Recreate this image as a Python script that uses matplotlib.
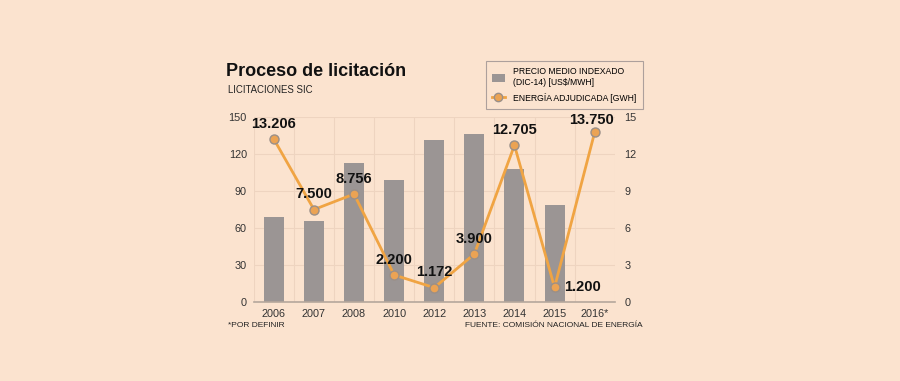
import matplotlib.pyplot as plt
import numpy as np
from matplotlib.lines import Line2D
from matplotlib.patches import Patch

years = ["2006", "2007", "2008", "2010", "2012", "2013", "2014", "2015", "2016*"]
precio = [69, 66, 113, 99, 131, 136, 108, 79, np.nan]
energia = [13.206, 7.500, 8.756, 2.200, 1.172, 3.900, 12.705, 1.200, 13.750]
etiquetas = ["13.206", "7.500", "8.756", "2.200", "1.172", "3.900", "12.705", "1.200", "13.750"]
# offsets (points) of each value label
offs = [(0, 6), (0, 6), (0, 6), (0, 6), (0, 6), (0, 6), (0, 6), (7, 0), (-2, 4)]

bg = "#fbe3cf"
grid_c = "#eed4c0"
bar_c = "#9b9594"
line_c = "#f0a443"

plt.rcParams['font.family'] = ["Liberation Sans", "DejaVu Sans"]
fig = plt.figure(figsize=(9, 3.81), dpi=100, facecolor=bg)
ax = fig.add_axes([0.282, 0.207, 0.401, 0.486], facecolor=bg)
x = np.arange(len(years))
ax.bar(x, precio, width=0.5, color=bar_c, zorder=2)
ax.set_xlim(-0.5, len(years) - 0.5)
ax.set_ylim(0, 150)
ax.set_yticks([0, 30, 60, 90, 120, 150])
ax.set_xticks(x)
ax.set_xticklabels(years)
ax.set_xticks(np.arange(-0.5, len(years), 1), minor=True)
ax.grid(False)
ax.xaxis.grid(True, which='minor', color=grid_c, lw=0.8, zorder=0)
ax.yaxis.grid(True, color=grid_c, lw=0.8, zorder=0)
ax.set_axisbelow(True)
ax.tick_params(which='both', length=0, labelsize=7.8, colors="#333333", pad=5)
for s in ["top", "right", "left"]:
    ax.spines[s].set_visible(False)
ax.spines["bottom"].set_color("#b5a79c")
ax.spines["bottom"].set_linewidth(1.2)

ax2 = ax.twinx()
ax2.set_ylim(0, 15)
ax2.set_yticks([0, 3, 6, 9, 12, 15])
ax2.tick_params(length=0, labelsize=7.8, colors="#333333", pad=7)
for s in ax2.spines.values():
    s.set_visible(False)
ax2.plot(x, energia, color=line_c, lw=2, marker="o", ms=6.5,
         mfc="#eba354", mec="#9a8f88", mew=1, zorder=3, clip_on=False)
for xi, yi, t, o in zip(x, energia, etiquetas, offs):
    ax2.annotate(t, (xi, yi), xytext=o, textcoords="offset points",
                 ha="left" if o[1] == 0 else "center",
                 va="bottom" if o[1] > 0 else "center",
                 fontsize=10.5, fontweight="bold", color="#111111", zorder=4)

fig.text(0.251, 0.812, "Proceso de licitación", fontsize=13, fontweight="bold",
         color="#111111", ha="left", va="center")
fig.text(0.253, 0.763, "LICITACIONES SIC", fontsize=6.9,
         color="#222222", ha="left", va="center")
fig.text(0.253, 0.145, "*POR DEFINIR", fontsize=6,
         color="#222222", ha="left", va="center")
fig.text(0.714, 0.145, "FUENTE: COMISIÓN NACIONAL DE ENERGÍA", fontsize=6,
         color="#222222", ha="right", va="center")

handles = [Patch(facecolor=bar_c, edgecolor="none"),
           Line2D([0], [0], color=line_c, lw=2, marker="o", ms=6, mfc="#eba354", mec="#9a8f88")]
leg = fig.legend(handles, ["PRECIO MEDIO INDEXADO\n(DIC-14) [US$/MWH]", "ENERGÍA ADJUDICADA [GWH]"],
                 loc="upper left", bbox_to_anchor=(0.54, 0.84), borderaxespad=0,
                 prop={"size": 6.2},
                 frameon=True, fancybox=False, edgecolor="#9a9090", facecolor=bg,
                 handlelength=1.4, handleheight=1.0, labelspacing=0.7, borderpad=0.75,
                 handletextpad=1.0)
leg.get_frame().set_linewidth(0.8)

fig.savefig("out.png", dpi=100, facecolor=bg)
